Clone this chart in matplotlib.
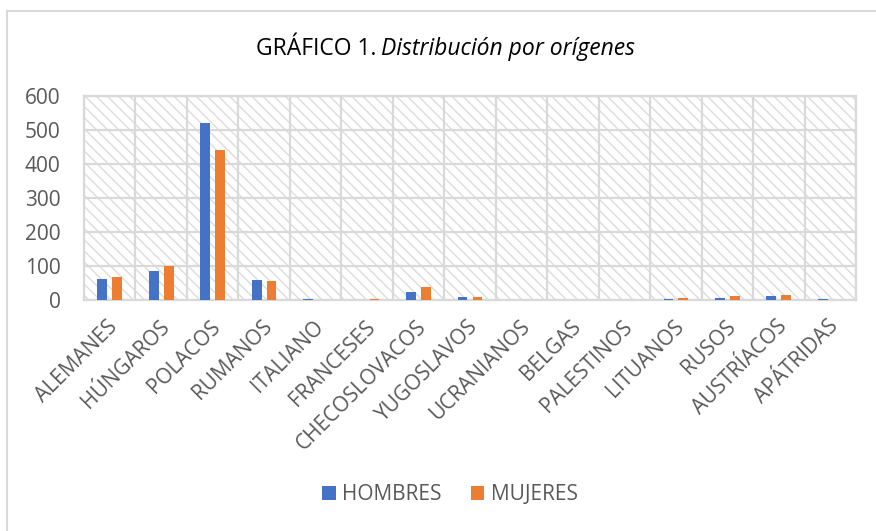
import numpy as np
import matplotlib.pyplot as plt
from matplotlib.lines import Line2D
from matplotlib.patches import Rectangle
from matplotlib.transforms import ScaledTranslation

plt.rcParams['font.family'] = ['Open Sans', 'DejaVu Sans']

categorias = ['ALEMANES', 'HÚNGAROS', 'POLACOS', 'RUMANOS', 'ITALIANO', 'FRANCESES',
              'CHECOSLOVACOS', 'YUGOSLAVOS', 'UCRANIANOS', 'BELGAS', 'PALESTINOS',
              'LITUANOS', 'RUSOS', 'AUSTRÍACOS', 'APÁTRIDAS']
hombres = [63, 86, 520, 60, 2, 0, 23, 9, 0, 0, 1, 4, 7, 12, 2]
mujeres = [69, 101, 442, 55, 1, 2, 38, 9, 0, 0, 0, 7, 12, 15, 0]
y_ticks = [0, 100, 200, 300, 400, 500, 600]

AZUL = '#4472C4'
NARANJA = '#ED7D31'
GRIS = '#D9D9D9'
TEXTO = '#595959'

fig = plt.figure(figsize=(8.76, 5.31), dpi=100)
ax = fig.add_axes([84 / 876, 1 - 300 / 531, 772 / 876, 204 / 531])

# fondo rayado del area del grafico
plt.rcParams['hatch.linewidth'] = 1.0
fondo = Rectangle((0, 0), 1, 1, transform=ax.transAxes, facecolor='white',
                  edgecolor='#DCDCDC', hatch='\\\\\\', linewidth=0, zorder=0)
ax.add_patch(fondo)

x = np.arange(len(categorias))
ancho = 0.19
ax.bar(x - 0.145, hombres, ancho, color=AZUL, label='HOMBRES', zorder=3)
ax.bar(x + 0.145, mujeres, ancho, color=NARANJA, label='MUJERES', zorder=3)

ax.set_xlim(-0.5, len(categorias) - 0.5)
ax.set_ylim(0, 600)
ax.set_yticks(y_ticks)
ax.set_xticks(x)
ax.set_xticks(np.arange(len(categorias) + 1) - 0.5, minor=True)
ax.set_xticklabels(categorias, rotation=45, ha='right', va='center',
                   rotation_mode='anchor')
ax.tick_params(axis='both', which='both', length=0, labelsize=15, labelcolor=TEXTO)
ax.tick_params(axis='x', pad=17)
ax.tick_params(axis='y', pad=17)
desplazar = ScaledTranslation(5 / 100, 0, fig.dpi_scale_trans)
for lab in ax.get_xticklabels():
    lab.set_transform(lab.get_transform() + desplazar)

ax.grid(axis='y', which='major', color=GRIS, linewidth=1.6, zorder=1)
ax.grid(axis='x', which='minor', color=GRIS, linewidth=1.6, zorder=1)
ax.grid(axis='x', which='major', visible=False)
ax.set_axisbelow(True)
for s in ax.spines.values():
    s.set_color(GRIS)
    s.set_linewidth(1.6)

# titulo: parte normal + parte en cursiva
t1 = fig.text(248 / 876, 1 - 55 / 531, 'GRÁFICO 1.', fontsize=16.5, color='black',
              ha='left', va='baseline')
t2 = ax.annotate('Distribución por orígenes', xy=(1, 0), xycoords=t1,
                 xytext=(4, 0), textcoords='offset points', fontsize=16.5,
                 style='italic', color='black', ha='left', va='bottom',
                 annotation_clip=False)
fig.canvas.draw()
r = fig.canvas.get_renderer()
izq = t1.get_window_extent(r).x0
der = t2.get_window_extent(r).x1
t1.set_x((445.5 - (der - izq) / 2) / 876)

leg = fig.legend(loc='center', bbox_to_anchor=(450 / 876, 1 - 495 / 531), ncol=2,
                 frameon=False, fontsize=15, handlelength=0.65, handleheight=0.65,
                 handletextpad=0.3, columnspacing=1.4)
for t in leg.get_texts():
    t.set_color(TEXTO)

# borde exterior del grafico
fig.add_artist(Line2D([7 / 876, 1], [1 - 11 / 531] * 2, color=GRIS, linewidth=1.5))
fig.add_artist(Line2D([7 / 876] * 2, [0, 1 - 11 / 531], color=GRIS, linewidth=1.5))

fig.savefig('out.png', dpi=100)
